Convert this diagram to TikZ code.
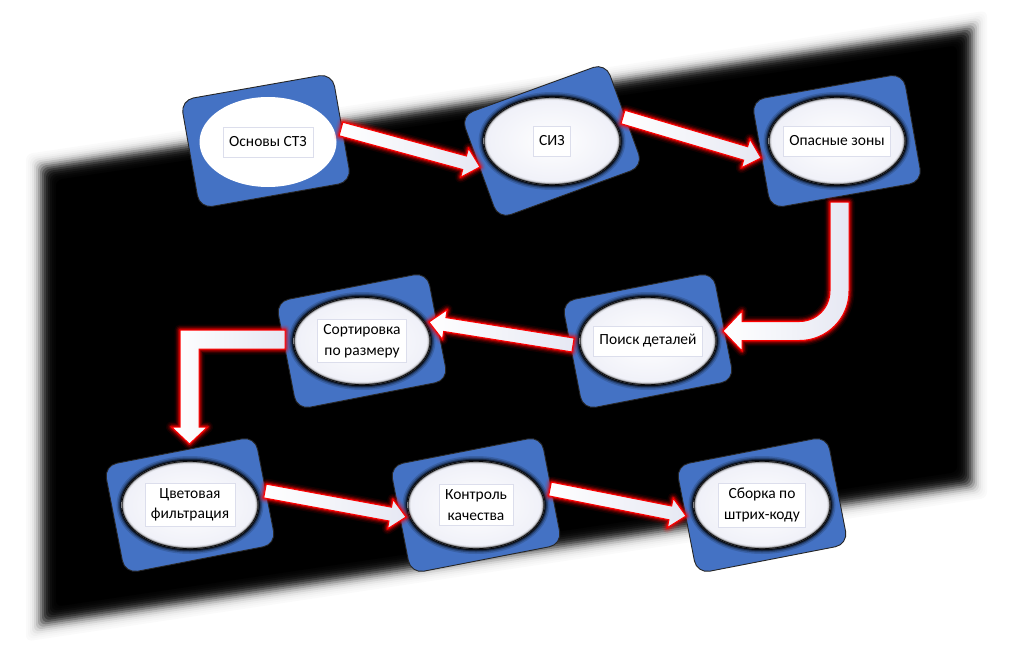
\documentclass[tikz,border=0pt]{standalone}
\usepackage{fontspec}
\setmainfont{Carlito}
\usetikzlibrary{shapes.geometric,calc}
\definecolor{boxblue}{HTML}{4472C4}
\definecolor{lav}{HTML}{EFF0F8}
\definecolor{rectb}{HTML}{DCDEEC}
\definecolor{glowred}{HTML}{FF0000}
\definecolor{arrowlav}{HTML}{E6E8F3}
\tikzset{
  stagebox/.style={draw=black!85, line width=0.9pt, fill=boxblue, rounded corners=13pt,
    minimum width=154pt, minimum height=110pt, inner sep=0pt},
  stageell/.style={ellipse, minimum width=137pt, minimum height=88pt, inner sep=0pt,
    inner color=white, outer color=lav},
  plainell/.style={ellipse, minimum width=137pt, minimum height=90pt, inner sep=0pt, fill=white},
  stagetxt/.style={draw=rectb, line width=0.6pt, fill=white, inner xsep=6pt, inner ysep=5pt,
    align=center, font=\fontsize{15.5}{20.5}\selectfont, minimum height=30pt},
  arrowbody/.style={draw=glowred, line width=1pt, line join=miter, left color=white, right color=arrowlav},
}
\newcommand\glowshape[1]{%
  \foreach \w/\o in {11/0.08, 8/0.14, 5.5/0.25, 3.2/0.45}
    {\draw[glowred, opacity=\o, line width=\w pt, line join=round] #1;}
  \draw[arrowbody] #1;}
\newcommand\blockarrow[2]{%
  \path let \p1=($(#2)-(#1)$) in \pgfextra{%
    \pgfmathsetmacro\baang{atan2(\y1,\x1)}%
    \pgfmathsetmacro\balen{veclen(\x1,\y1)}%
    \xdef\BAang{\baang}\xdef\BAlen{\balen}};
  \begin{scope}[shift={(#1)}, rotate=\BAang]
    \glowshape{(0pt,-7pt) -- ({\BAlen*1pt-16pt},-7pt) -- ({\BAlen*1pt-16pt},-15pt) -- ({\BAlen*1pt},0pt)
      -- ({\BAlen*1pt-16pt},15pt) -- ({\BAlen*1pt-16pt},7pt) -- (0pt,7pt) -- cycle}
  \end{scope}}
\begin{document}
\begin{tikzpicture}[x=1pt,y=-1pt]
\useasboundingbox (0,0) rectangle (1017,666);
\fill[white] (0,0) rectangle (1017,666);
% blurred black parallelogram (layered, logistic profile)
\xdef\Tprev{0}
\foreach \j in {1,...,16}{
  \pgfmathsetmacro\rr{15-(\j-1)*2}
  \pgfmathsetmacro\mm{\rr-1}
  \pgfmathsetmacro\Tcur{(\j==16) ? 1 : 1/(1+exp(1.702*\mm/6))}
  \pgfmathsetmacro\op{1-(1-\Tcur)/(1-\Tprev)}
  \xdef\Tprev{\Tcur}
  \fill[black, opacity=\op, rounded corners=6pt] ({41-\rr},{167-0.8618*\rr}) -- ({972+\rr},{28-1.1604*\rr})
     -- ({972+\rr},{485+0.8618*\rr}) -- ({41-\rr},{624+1.1604*\rr}) -- cycle;
}
% stage 1
\node[stagebox, rotate=10] (b1) at (266,141) {};
\node[plainell] (e1) at (268,142) {};
\node[stagetxt] (t1) at (268,142) {Основы СТЗ};
% other stages
\foreach \n/\cx/\cy/\r/\t in {
  2/552/141/20/{СИЗ},
  3/837/141/10/{Опасные зоны},
  4/648/341/11/{Поиск деталей},
  5/362/341/11/{Сортировка\\по размеру},
  6/190/505/11/{Цветовая\\фильтрация},
  7/476/505/11/{Контроль\\качества},
  8/762/505/11/{Сборка по\\штрих-коду}}
{
  \node[stagebox, rotate=\r] (b\n) at (\cx,\cy) {};
  \foreach \w/\o in {10/0.15, 7/0.25, 4.5/0.4, 2.5/0.7}
    {\draw[black, opacity=\o, line width=\w pt] (\cx,\cy) ellipse [x radius=68.5pt, y radius=44pt];}
  \node[stageell] (e\n) at (\cx,\cy) {};
  \begin{scope}
    \clip (\cx,\cy) ellipse [x radius=68.5pt, y radius=44pt];
    \foreach \w/\o in {6/0.08, 4/0.18, 2.6/0.4, 1.4/0.9}
      {\draw[black, opacity=\o, line width=\w pt] (\cx,\cy) ellipse [x radius=68.5pt, y radius=44pt];}
  \end{scope}
  \node[stagetxt] (t\n) at (\cx,\cy) {\t};
}
% connectors
\coordinate (a1s) at (341,129); \coordinate (a1e) at (480,167);
\coordinate (a2s) at (623,117); \coordinate (a2e) at (761,158);
\coordinate (a4s) at (573,345); \coordinate (a4e) at (429,322);
\coordinate (a6s) at (265,491); \coordinate (a6e) at (406,517);
\coordinate (a7s) at (550,489); \coordinate (a7e) at (686,516);
\coordinate (a3s) at (839.5,202);
\coordinate (a5s) at (285,339.5);
\blockarrow{a1s}{a1e}
\blockarrow{a2s}{a2e}
\blockarrow{a4s}{a4e}
\blockarrow{a6s}{a6e}
\blockarrow{a7s}{a7e}
\begin{scope}[shift={(a3s)}]
  \glowshape{(-9.5,0) -- (9.5,0) -- (9.5,89) arc[start angle=0, end angle=-90, radius=49.5pt]
    -- (-97.5,138.5) -- (-97.5,149) -- (-116.5,129) -- (-97.5,109) -- (-97.5,119.5) -- (-40,119.5)
    arc[start angle=-90, end angle=0, radius=30.5pt] -- cycle}
\end{scope}
\begin{scope}[shift={(a5s)}]
  \glowshape{(0,-9.5) -- (-105,-9.5) -- (-105,87.5) -- (-113.5,87.5) -- (-95.5,104.5)
    -- (-77.5,87.5) -- (-86,87.5) -- (-86,9.5) -- (0,9.5) -- cycle}
\end{scope}
\end{tikzpicture}
\end{document}
